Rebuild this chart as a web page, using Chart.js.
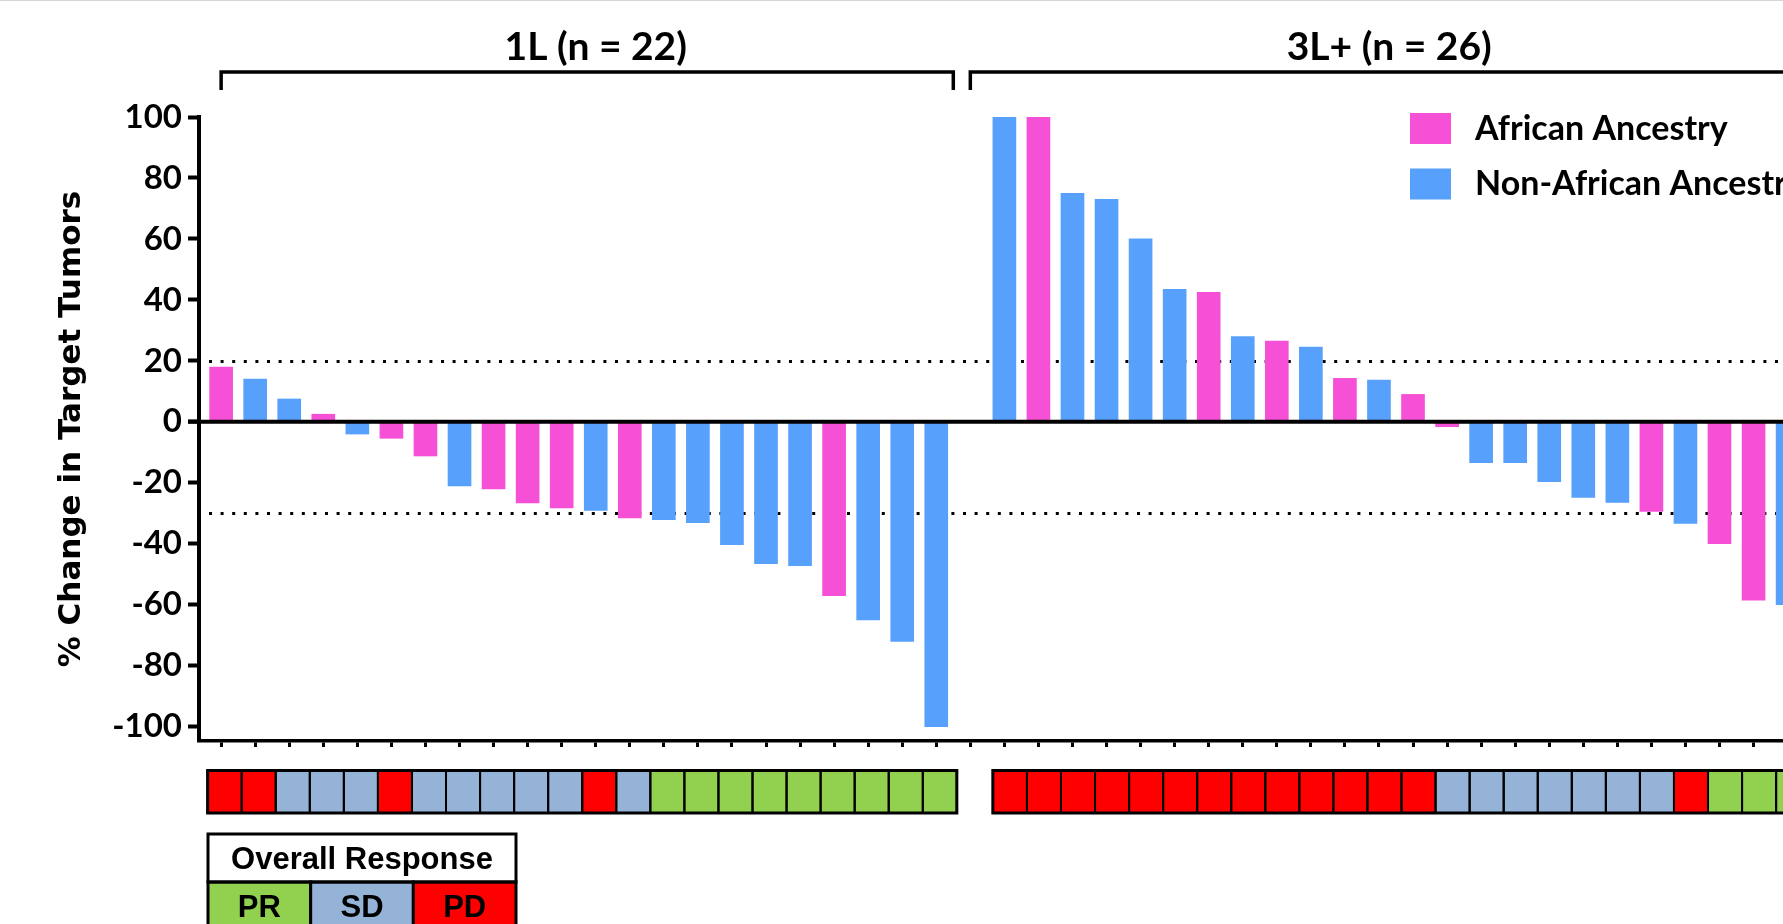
<!DOCTYPE html>
<html>
<head>
<meta charset="utf-8">
<title>% Change in Target Tumors</title>
<script src="https://cdn.jsdelivr.net/npm/chart.js@4.4.1/dist/chart.umd.min.js"></script>
<style>
  html, body { margin: 0; padding: 0; background: #fff; overflow: hidden; }
  #wrap { position: absolute; left: 0; top: 0; width: 1783px; height: 924px; overflow: hidden; }
  #topline { position: absolute; left: 0; top: 0; width: 1783px; height: 1px; background: #d6d6d6; }
  canvas { display: block; }
</style>
</head>
<body>
<div id="wrap">
  <canvas id="waterfall" width="1900" height="924"></canvas>
  <div id="topline"></div>
</div>
<script>
// 1L cohort, sorted as in the figure
var oneL_change = [18, 14, 7.5, 2.5, -4, -5.4, -11.2, -21, -22, -26.6, -28.2, -29.1, -31.5,
  -32.1, -33.1, -40.3, -46.5, -47.2, -57, -65, -72, -100];
var oneL_ancestry = ['A', 'N', 'N', 'A', 'N', 'A', 'A', 'N', 'A', 'A', 'A', 'N', 'A',
  'N', 'N', 'N', 'N', 'N', 'A', 'N', 'N', 'N'];
var oneL_response = ['PD', 'PD', 'SD', 'SD', 'SD', 'PD', 'SD', 'SD', 'SD', 'SD', 'SD', 'PD', 'SD',
  'PR', 'PR', 'PR', 'PR', 'PR', 'PR', 'PR', 'PR', 'PR'];

// 3L+ cohort, the last two patients are outside the cropped figure
var threeL_change = [100, 100, 75, 73, 60, 43.5, 42.5, 28, 26.5, 24.5, 14.3, 13.7, 9,
  -1.6, -13.4, -13.4, -19.6, -24.8, -26.4, -29.4, -33.3, -40, -58.5, -60, null, null];
var threeL_ancestry = ['N', 'A', 'N', 'N', 'N', 'N', 'A', 'N', 'A', 'N', 'A', 'N', 'A',
  'A', 'N', 'N', 'N', 'N', 'N', 'A', 'N', 'A', 'A', 'N', null, null];
var threeL_response = ['PD', 'PD', 'PD', 'PD', 'PD', 'PD', 'PD', 'PD', 'PD', 'PD', 'PD', 'PD', 'PD',
  'SD', 'SD', 'SD', 'SD', 'SD', 'SD', 'SD', 'PD', 'PR', 'PR', 'PR', null, null];

var yTicks = [-100, -80, -60, -40, -20, 0, 20, 40, 60, 80, 100];
var thresholds = [20, -30];
var groupLabels = ['1L (n = 22)', '3L+ (n = 26)'];
var legendLabels = ['African Ancestry', 'Non-African Ancestry'];
var responseLabels = ['PR', 'SD', 'PD'];

// styles
var colAfrican = '#F650D7';
var colNon = '#57A0FB';
var responseColors = { PR: '#92D050', SD: '#95B3D7', PD: '#FF0000' };
var groupOffset = [0, 23];          // slot where each cohort starts (one empty slot between)
var bracketSpan = [[0, 21.5], [22, 47.3]];
var titleAt = [11, 34.3];
var stripShift = [13.5, 11.5];

var africanPts = [], nonAfricanPts = [], strip = [], slots = [];
function addGroup(g, change, ancestry, response) {
  for (var i = 0; i < change.length; i++) {
    var s = groupOffset[g] + i;
    if (response[i]) strip.push({ slot: s, group: g, r: response[i] });
    if (change[i] === null) continue;
    var p = { x: s, y: change[i] };
    if (ancestry[i] === 'A') africanPts.push(p); else nonAfricanPts.push(p);
  }
}
addGroup(0, oneL_change, oneL_ancestry, oneL_response);
addGroup(1, threeL_change, threeL_ancestry, threeL_response);
for (var k = 0; k < groupOffset[1] + threeL_change.length; k++) slots.push(k);

var extras = {
  id: 'extras',
  beforeDatasetsDraw: function (chart) {
    var ctx = chart.ctx, y = chart.scales.y, area = chart.chartArea;
    ctx.save();
    ctx.strokeStyle = '#000';
    ctx.lineWidth = 3;
    ctx.lineCap = 'butt';
    ctx.setLineDash([3, 8.6]);
    thresholds.forEach(function (t) {
      var py = Math.round(y.getPixelForValue(t)) + 0.5;
      ctx.beginPath();
      ctx.moveTo(area.left + 10, py);
      ctx.lineTo(area.right, py);
      ctx.stroke();
    });
    ctx.restore();
  },
  afterDatasetsDraw: function (chart) {
    var ctx = chart.ctx, x = chart.scales.x, y = chart.scales.y, area = chart.chartArea;
    var pitch = x.getPixelForValue(1) - x.getPixelForValue(0);
    ctx.save();

    // zero line
    var y0 = y.getPixelForValue(0);
    ctx.strokeStyle = '#000';
    ctx.lineWidth = 4;
    ctx.beginPath();
    ctx.moveTo(area.left - 11, y0);
    ctx.lineTo(area.right, y0);
    ctx.stroke();

    // cohort brackets and titles
    ctx.lineWidth = 3.5;
    ctx.fillStyle = '#000';
    ctx.font = 'bold 39px Lato';
    ctx.textAlign = 'center';
    ctx.textBaseline = 'alphabetic';
    groupLabels.forEach(function (lab, g) {
      var x1 = x.getPixelForValue(bracketSpan[g][0]);
      var x2 = x.getPixelForValue(bracketSpan[g][1]);
      ctx.beginPath();
      ctx.moveTo(x1, 90);
      ctx.lineTo(x1, 72);
      ctx.lineTo(x2, 72);
      ctx.lineTo(x2, 90);
      ctx.stroke();
      ctx.fillText(lab, x.getPixelForValue(titleAt[g]), 60);
    });

    // ancestry legend
    ctx.font = 'bold 34px Lato';
    ctx.textAlign = 'left';
    ctx.textBaseline = 'middle';
    [colAfrican, colNon].forEach(function (c, i) {
      var top = 113 + i * 55.5;
      ctx.fillStyle = c;
      ctx.fillRect(1410, top, 41, 31);
      ctx.fillStyle = '#000';
      ctx.fillText(legendLabels[i], 1475, top + 16);
    });

    // overall response strip
    var sTop = 770.5, sH = 42.5;
    strip.forEach(function (c) {
      var left = x.getPixelForValue(c.slot) - stripShift[c.group];
      ctx.fillStyle = responseColors[c.r];
      ctx.fillRect(left, sTop, pitch, sH);
    });
    ctx.strokeStyle = '#000';
    ctx.lineWidth = 2;
    strip.forEach(function (c) {
      var left = x.getPixelForValue(c.slot) - stripShift[c.group];
      ctx.strokeRect(left, sTop, pitch, sH);
    });
    ctx.lineWidth = 3;
    [0, 1].forEach(function (g) {
      var cells = strip.filter(function (c) { return c.group === g; });
      var l = x.getPixelForValue(cells[0].slot) - stripShift[g];
      var r = x.getPixelForValue(cells[cells.length - 1].slot) - stripShift[g] + pitch;
      ctx.strokeRect(l, sTop, r - l, sH);
    });

    // response key
    var kx = 208, kw = 308, ky = 834, kh = 48;
    ctx.fillStyle = '#fff';
    ctx.fillRect(kx, ky, kw, kh);
    ctx.font = 'bold 31px "Liberation Sans"';
    ctx.textAlign = 'center';
    ctx.fillStyle = '#000';
    ctx.fillText('Overall Response', kx + kw / 2, ky + kh / 2 + 2);
    responseLabels.forEach(function (r, i) {
      var cx = kx + i * kw / 3;
      ctx.fillStyle = responseColors[r];
      ctx.fillRect(cx, ky + kh, kw / 3, kh);
      ctx.strokeRect(cx, ky + kh, kw / 3, kh);
      ctx.fillStyle = '#000';
      ctx.fillText(r, cx + kw / 6, ky + kh * 1.5 + 2);
    });
    ctx.strokeRect(kx, ky, kw, kh);
    ctx.restore();
  }
};

new Chart(document.getElementById('waterfall'), {
  type: 'bar',
  data: {
    datasets: [
      { label: legendLabels[0], data: africanPts, backgroundColor: colAfrican },
      { label: legendLabels[1], data: nonAfricanPts, backgroundColor: colNon }
    ]
  },
  options: {
    responsive: false,
    animation: false,
    devicePixelRatio: 1,
    layout: { padding: { top: 117, left: 0, right: 0, bottom: 0 } },
    datasets: { bar: { barThickness: 23, grouped: false, borderWidth: 0 } },
    plugins: { legend: { display: false }, tooltip: { enabled: false } },
    scales: {
      x: {
        type: 'linear',
        offset: false,
        min: -0.65,
        max: 49.3,
        afterBuildTicks: function (s) { s.ticks = slots.map(function (v) { return { value: v }; }); },
        afterFit: function (s) { s.height = 183; },
        ticks: { display: false },
        grid: { offset: false, drawOnChartArea: false, drawTicks: true, tickLength: 6, tickWidth: 3, tickColor: '#000' },
        border: { display: true, color: '#000', width: 3.5 }
      },
      y: {
        min: -104.7,
        max: 100,
        afterBuildTicks: function (s) { s.ticks = yTicks.map(function (v) { return { value: v }; }); },
        afterFit: function (s) { s.width = 199; },
        ticks: { color: '#000', padding: 6, font: { family: 'Lato', weight: 'bold', size: 33 } },
        grid: { drawOnChartArea: false, tickLength: 11, tickWidth: 4, tickColor: '#000' },
        border: { display: true, color: '#000', width: 4 },
        title: {
          display: true,
          text: '% Change in Target Tumors',
          color: '#000',
          font: { family: 'DejaVu Sans', weight: 'bold', size: 31 },
          padding: { top: 53, bottom: 0 }
        }
      }
    }
  },
  plugins: [extras]
});
</script>
</body>
</html>
